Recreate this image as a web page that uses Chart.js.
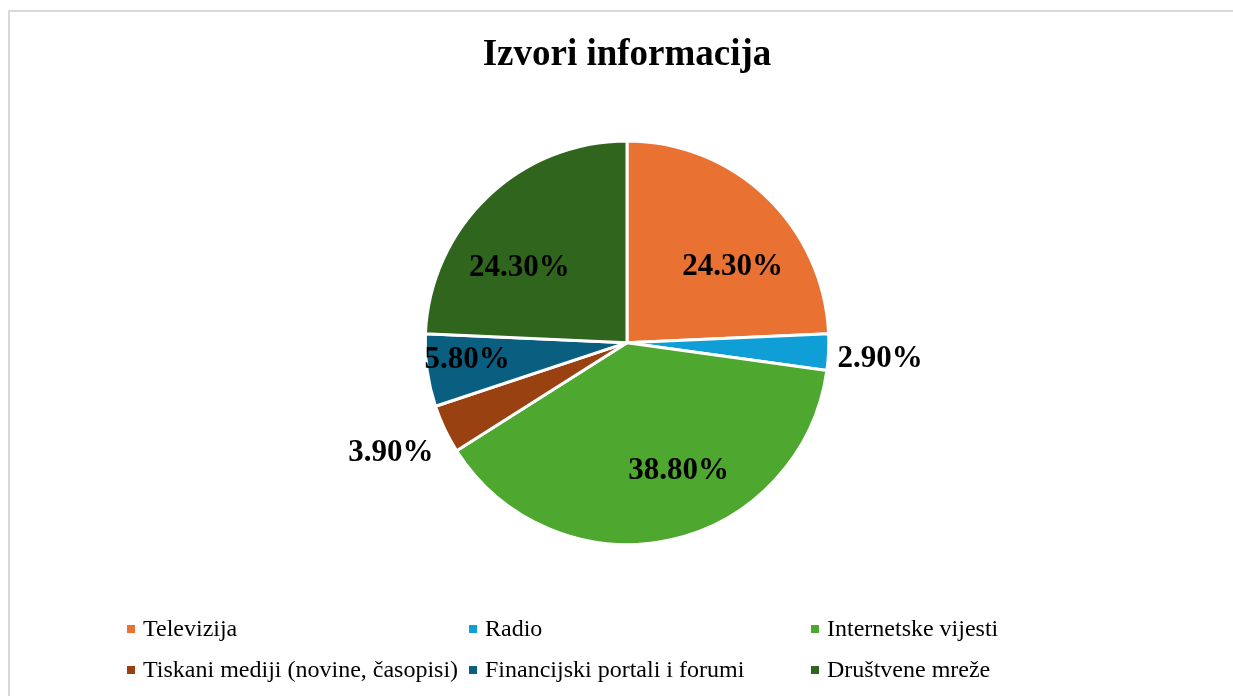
<!DOCTYPE html>
<html>
<head>
<meta charset="utf-8">
<title>Izvori informacija</title>
<script src="https://cdn.jsdelivr.net/npm/chart.js@4/dist/chart.umd.min.js"></script>
<style>
  html, body { margin: 0; padding: 0; background: #fff; }
  #wrap { width: 1233px; height: 696px; position: relative; }
</style>
</head>
<body>
<div id="wrap"><canvas id="chart"></canvas></div>
<script>
// ===== Data =====
const categories = [
  "Televizija",
  "Radio",
  "Internetske vijesti",
  "Tiskani mediji (novine, časopisi)",
  "Financijski portali i forumi",
  "Društvene mreže"
];
const shares = [24.3, 2.9, 38.8, 3.9, 5.8, 24.3];
const sliceColors = ["#E97132", "#0F9ED5", "#4EA72E", "#9A4112", "#0A5F80", "#2F651D"];

const SERIF = "'Liberation Serif', 'Times New Roman', serif";

// Frame around the chart area (like the Excel chart border)
const framePlugin = {
  id: "frame",
  beforeDraw(chart) {
    const ctx = chart.ctx;
    ctx.save();
    ctx.fillStyle = "#fff";
    ctx.fillRect(0, 0, chart.width, chart.height);
    ctx.strokeStyle = "#d9d9d9";
    ctx.lineWidth = 2;
    ctx.strokeRect(9, 11, chart.width + 20, chart.height + 20);
    ctx.restore();
  }
};

// Percentage labels: inside for big slices, outside for small ones
const labelPlugin = {
  id: "sliceLabels",
  afterDatasetsDraw(chart, args, opts) {
    const ctx = chart.ctx;
    const meta = chart.getDatasetMeta(0);
    ctx.save();
    ctx.font = "bold 31px " + SERIF;
    ctx.fillStyle = "#000";
    meta.data.forEach((arc, i) => {
      const p = arc.getProps(["x", "y", "startAngle", "endAngle", "outerRadius"], true);
      const mid = (p.startAngle + p.endAngle) / 2;
      const dx = Math.cos(mid), dy = Math.sin(mid);
      const text = shares[i].toFixed(2) + "%";
      const nudge = opts.nudge[i] || [0, 0];
      if (shares[i] < opts.outsideBelow) {
        const r = p.outerRadius + 8;
        ctx.textAlign = dx >= 0 ? "left" : "right";
        ctx.textBaseline = dy > 0.3 ? "top" : "middle";
        ctx.fillText(text, p.x + dx * r + nudge[0], p.y + dy * r + nudge[1]);
      } else {
        const r = p.outerRadius * opts.insideRadius[i];
        ctx.textAlign = "center";
        ctx.textBaseline = "middle";
        ctx.fillText(text, p.x + dx * r + nudge[0], p.y + dy * r + nudge[1]);
      }
    });
    ctx.restore();
  }
};

// Legend in three even columns under the pie
const gridLegendPlugin = {
  id: "gridLegend",
  afterDraw(chart, args, opts) {
    const ctx = chart.ctx;
    ctx.save();
    ctx.font = "24px " + SERIF;
    ctx.textAlign = "left";
    ctx.textBaseline = "middle";
    categories.forEach((name, i) => {
      const col = i % opts.columns;
      const row = Math.floor(i / opts.columns);
      const x = opts.left + col * opts.colWidth;
      const y = opts.top + row * opts.rowHeight;
      ctx.fillStyle = sliceColors[i];
      ctx.fillRect(x, y - 4, 8, 8);
      ctx.fillStyle = "#000";
      ctx.fillText(name, x + 16, y + 1);
    });
    ctx.restore();
  }
};

const ctx = document.getElementById("chart").getContext("2d");
const chart = new Chart(ctx, {
  type: "pie",
  data: {
    labels: categories,
    datasets: [{
      data: shares,
      backgroundColor: sliceColors,
      borderColor: "#ffffff",
      borderWidth: 3
    }]
  },
  options: {
    responsive: true,
    maintainAspectRatio: false,
    animation: false,
    layout: { padding: { left: 21, top: 0, bottom: 150, right: 0 } },
    plugins: {
      legend: { display: false },
      tooltip: { enabled: false },
      title: {
        display: true,
        text: "Izvori informacija",
        color: "#000",
        font: { family: SERIF, size: 37, weight: "bold", lineHeight: 1.2 },
        padding: { top: 33, bottom: 62 }
      },
      sliceLabels: {
        outsideBelow: 5,
        insideRadius: [0.65, 0, 0.67, 0, 0.8, 0.65],
        nudge: [[15, 19], [1, 6], [23, -4], [-4, 5], [0, -5], [-17, 20]]
      },
      gridLegend: { columns: 3, left: 127, colWidth: 342, top: 629, rowHeight: 41 }
    }
  },
  plugins: [framePlugin, labelPlugin, gridLegendPlugin]
});
</script>
</body>
</html>
